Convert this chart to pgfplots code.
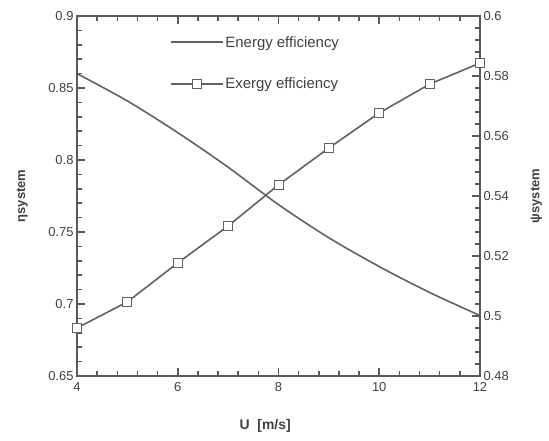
\documentclass[border=0pt]{standalone}
\usepackage{fontspec}
\setmainfont{Liberation Sans}
\usepackage{pgfplots}
\pgfplotsset{compat=1.18}
\definecolor{ln}{gray}{0.38}
\definecolor{axc}{gray}{0.35}
\definecolor{tx}{gray}{0.25}
\pgfplotsset{
  common/.style={
    scale only axis, width=403bp, height=360bp,
    xmin=4, xmax=12,
    axis line style={axc, line width=1.2pt},
    tick align=inside,
    every tick/.style={draw=axc, line width=1.6pt},
    major tick length=8bp, minor tick length=5bp,
    tick label style={font=\fontsize{13}{15}\selectfont, text=tx},
    /pgf/number format/assume math mode=true,
  }
}
\begin{document}
\begin{tikzpicture}
\begin{axis}[common,
  ymin=0.65, ymax=0.9,
  xtick={4,6,8,10,12}, minor x tick num=4,
  ytick={0.65,0.7,0.75,0.8,0.85,0.9},
  yticklabels={0.65,0.7,0.75,0.8,0.85,0.9},
  minor y tick num=4,
  ytick pos=left, xtick pos=both,
  xticklabel style={yshift=-3bp},
  xlabel={U\ \ [m/s]},
  ylabel={ηsystem},
  every axis x label/.style={at={(axis description cs:0.467,-0.139)}, anchor=center, font=\bfseries\fontsize{14}{16}\selectfont, text=tx},
  every axis y label/.style={at={(axis description cs:-0.136,0.5)}, rotate=90, anchor=center, font=\bfseries\fontsize{13}{15}\selectfont, text=tx},
]
\addplot[ln, line width=1.6pt, smooth, no markers] coordinates {
(4,0.860) (5,0.841) (6,0.819) (7,0.795) (8,0.769) (9,0.746) (10,0.726) (11,0.708) (12,0.692)
};
\end{axis}
\begin{axis}[common,
  ymin=0.48, ymax=0.6,
  axis x line=none, axis y line*=right,
  ytick={0.48,0.5,0.52,0.54,0.56,0.58,0.6},
  yticklabels={0.48,0.5,0.52,0.54,0.56,0.58,0.6},
  minor y tick num=4,
  ylabel={ψsystem},
  every axis y label/.style={at={(axis description cs:1.14,0.5)}, rotate=90, anchor=center, font=\bfseries\fontsize{13}{15}\selectfont, text=tx},
  legend style={draw=none, fill=none, at={(axis description cs:0.222,0.955)}, anchor=north west,
    font=\fontsize{15}{17}\selectfont, text=tx, row sep=25bp},
  legend cell align=left,
]
\addlegendimage{legend image code/.code={\draw[ln, line width=1.8pt] (0bp,0.4bp) -- (52bp,0.4bp);}}
\addlegendentry{Energy efficiency}
\addlegendimage{legend image code/.code={\draw[ln, line width=1.6pt] (0bp,0bp) -- (52bp,0bp); \draw[ln, line width=1pt, fill=white] (21.5bp,-4.5bp) rectangle (30.5bp,4.5bp);}}
\addlegendentry{Exergy efficiency}
\addplot[ln, line width=1.6pt, mark=square*, mark size=4.5bp, mark options={fill=white, line width=1pt}, forget plot]
coordinates {
(4,0.496) (5,0.5047) (6,0.5177) (7,0.530) (8,0.5437) (9,0.556) (10,0.5677) (11,0.5773) (12,0.5843)
};
\end{axis}
\path (-77bp,-65bp) (472bp,376bp);
\end{tikzpicture}
\end{document}
